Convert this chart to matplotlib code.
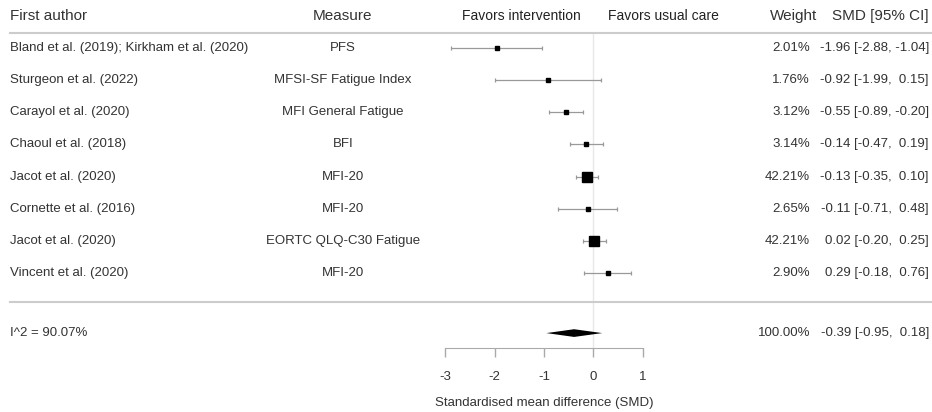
import matplotlib.pyplot as plt
import matplotlib.transforms as mtransforms

plt.rcParams['font.family'] = ['Liberation Sans', 'DejaVu Sans']

# Study data
authors = ['Bland et al. (2019); Kirkham et al. (2020)', 'Sturgeon et al. (2022)',
           'Carayol et al. (2020)', 'Chaoul et al. (2018)', 'Jacot et al. (2020)',
           'Cornette et al. (2016)', 'Jacot et al. (2020)', 'Vincent et al. (2020)']
measures = ['PFS', 'MFSI-SF Fatigue Index', 'MFI General Fatigue', 'BFI', 'MFI-20',
            'MFI-20', 'EORTC QLQ-C30 Fatigue', 'MFI-20']
smd = [-1.96, -0.92, -0.55, -0.14, -0.13, -0.11, 0.02, 0.29]
ci_low = [-2.88, -1.99, -0.89, -0.47, -0.35, -0.71, -0.20, -0.18]
ci_high = [-1.04, 0.15, -0.20, 0.19, 0.10, 0.48, 0.25, 0.76]
weights = [2.01, 1.76, 3.12, 3.14, 42.21, 2.65, 42.21, 2.90]

# Pooled estimate
pooled_smd = -0.39
pooled_low = -0.95
pooled_high = 0.18
pooled_weight = 100.00
i2 = 90.07

xticks = [-3, -2, -1, 0, 1]

text_col = '#333333'
W, H = 932, 412

fig = plt.figure(figsize=(W / 100, H / 100), dpi=100)
ax = fig.add_axes([0, 0, 1, 1])
# x: 0 at px 593.3, 49.3 px per unit; y: row r at px 48 + 32.14 r
ax.set_xlim(-593.3 / 49.3, (W - 593.3) / 49.3)
ax.set_ylim((H - 48) / 32.14, -48 / 32.14)
ax.set_facecolor('white')

tr = mtransforms.blended_transform_factory(ax.transAxes, ax.transData)

def px(x):
    return x / W

fs = 9.5

# header
ax.text(px(10), -1, 'First author', transform=tr, ha='left', va='center', fontsize=11, color=text_col)
ax.text(px(343), -1, 'Measure', transform=tr, ha='center', va='center', fontsize=11, color=text_col)
ax.text(px(521), -1, 'Favors intervention', transform=tr, ha='center', va='center', fontsize=10, color='#222222')
ax.text(px(663), -1, 'Favors usual care', transform=tr, ha='center', va='center', fontsize=10, color='#222222')
ax.text(px(817), -1, 'Weight', transform=tr, ha='right', va='center', fontsize=11, color=text_col)
ax.text(px(929), -1, 'SMD [95% CI]', transform=tr, ha='right', va='center', fontsize=11, color=text_col)

ax.axhline(-0.47, xmin=px(10), xmax=1, color='#cccccc', lw=1.5)
ax.axhline(7.9, xmin=px(10), xmax=1, color='#cccccc', lw=1.5)

# reference line at zero
ax.plot([0, 0], [-0.47, 9.33], color='#e8e8e8', lw=1, zorder=0)

rows = list(range(len(authors)))
wmax = max(weights)
for r in rows:
    ax.text(px(10), r, authors[r], transform=tr, ha='left', va='center', fontsize=fs, color=text_col)
    ax.text(px(343), r, measures[r], transform=tr, ha='center', va='center', fontsize=fs, color=text_col)
    ax.text(px(810), r, f'{weights[r]:.2f}%', transform=tr, ha='right', va='center', fontsize=fs, color=text_col)
    ax.text(px(929), r, f'{smd[r]:.2f} [{ci_low[r]:.2f}, {ci_high[r]:5.2f}]', transform=tr,
            ha='right', va='center', fontsize=fs, color=text_col)
    ax.errorbar(smd[r], r, xerr=[[smd[r] - ci_low[r]], [ci_high[r] - smd[r]]], fmt='none',
                ecolor='#999999', elinewidth=0.9, capsize=1.6, capthick=0.9)
    ms = 2.6 + 4.2 * weights[r] / wmax
    ax.plot(smd[r], r, marker='s', ms=ms, color='black', mec='black', lw=0, zorder=3)

# pooled row
ys = 8.87
ax.text(px(10), ys, f'I^2 = {i2:.2f}%', transform=tr, ha='left', va='center', fontsize=fs, color=text_col)
ax.text(px(810), ys, f'{pooled_weight:.2f}%', transform=tr, ha='right', va='center', fontsize=fs, color=text_col)
ax.text(px(929), ys, f'{pooled_smd:.2f} [{pooled_low:.2f}, {pooled_high:5.2f}]', transform=tr,
        ha='right', va='center', fontsize=fs, color=text_col)
ax.fill([pooled_low, pooled_smd, pooled_high, pooled_smd],
        [ys, ys - 0.12, ys, ys + 0.12], color='black', lw=0, zorder=3)

# x axis
for s in ['top', 'left', 'right']:
    ax.spines[s].set_visible(False)
ax.spines['bottom'].set_position(('data', 9.33))
ax.spines['bottom'].set_bounds(-3, 1)
ax.spines['bottom'].set_color('#aaaaaa')
ax.set_xticks(xticks)
ax.set_xticklabels([str(t) for t in xticks])
ax.tick_params(axis='x', direction='out', length=6.5, width=1, color='#aaaaaa',
               labelsize=fs, labelcolor=text_col, pad=10.5)
ax.set_yticks([])
ax.text(-1, 11.04, 'Standardised mean difference (SMD)', ha='center', va='center',
        fontsize=fs, color=text_col)

fig.savefig('out.png', dpi=100)
